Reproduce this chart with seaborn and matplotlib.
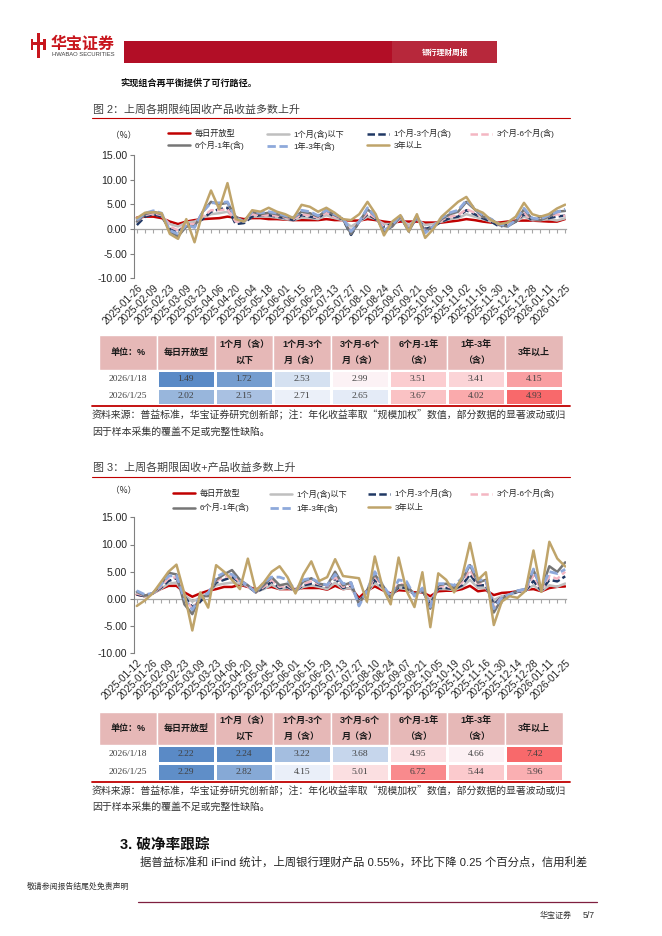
import numpy as np
import pandas as pd
import matplotlib.pyplot as plt
import matplotlib.colors as mcolors
from matplotlib.patches import Rectangle
from matplotlib.lines import Line2D
from matplotlib.ticker import FormatStrFormatter
import seaborn as sns

sns.set_style('white')
plt.rcParams['font.family'] = ['Liberation Sans', 'Noto Sans CJK SC']
plt.rcParams['axes.unicode_minus'] = False
CJK = ['Noto Sans CJK SC', 'DejaVu Sans']

W, H = 662, 936


def fx(x):
    return x / W


def fy(y):
    return 1 - y / H


# ---- data -------------------------------------------------------------
names = ['每日开放型', '1个月(含)以下', '1个月-3个月(含)', '3个月-6个月(含)',
         '6个月-1年(含)', '1年-3年(含)', '3年以上']
colors = ['#C00000', '#BFBFBF', '#203864', '#F4B6C2', '#767676', '#8EA9DB', '#BFA46A']
styles = ['-', '-', (0, (3, 1.3)), (0, (3, 1.3)), '-', (0, (3, 1.3)), '-']
widths = [1.8, 1.8, 1.8, 1.8, 1.8, 2.0, 1.8]

dates1 = pd.date_range('2025-01-26', '2026-01-25', freq='7D')
daily1 = [2.3, 2.5, 2.5, 2.2, 1.5, 1.0, 1.5, 1.8, 2.0, 2.1,
          2.2, 2.5, 2.3, 2.0, 2.2, 2.2, 2.0, 2.0, 1.9, 1.8,
          1.8, 1.8, 1.8, 2.0, 1.8, 1.8, 1.7, 1.7, 2.0, 1.8,
          1.5, 1.3, 1.5, 1.5, 1.5, 1.3, 1.3, 1.3, 1.5, 1.7,
          2.0, 1.8, 1.5, 1.3, 1.3, 1.5, 1.7, 1.7, 1.7, 1.6,
          1.5, 1.49, 2.02]
m1_1 = [2.0, 2.8, 3.0, 2.6, 1.0, 0.5, 1.3, 1.5, 2.3, 3.0,
        3.2, 3.5, 2.0, 1.5, 2.5, 2.5, 2.5, 2.3, 2.0, 1.8,
        2.3, 2.2, 2.0, 2.8, 2.2, 1.8, 0.5, 1.5, 2.5, 2.0,
        1.0, 1.0, 2.0, 0.8, 2.0, 0.8, 1.0, 1.5, 2.0, 2.2,
        3.0, 2.5, 2.0, 1.5, 0.8, 1.0, 1.5, 2.5, 1.8, 1.8,
        2.0, 1.72, 2.15]
m3_1 = [0.8, 2.5, 3.0, 2.5, 0.0, -0.5, 0.8, 1.0, 2.0, 3.5,
        4.0, 4.3, 1.0, 1.2, 2.5, 2.8, 2.8, 2.5, 2.2, 1.8,
        2.8, 2.5, 2.2, 3.5, 2.5, 2.0, -1.2, 1.5, 3.0, 2.0,
        0.5, 1.0, 2.2, 0.0, 2.2, 0.0, 0.5, 1.5, 2.2, 2.5,
        3.8, 3.0, 2.2, 1.5, 0.5, 0.8, 1.5, 3.0, 1.8, 2.5,
        2.2, 2.53, 2.71]
m6_1 = [1.5, 2.8, 3.2, 2.8, 0.5, -0.3, 1.0, 1.0, 2.5, 3.8,
        3.8, 4.0, 1.5, 1.5, 3.0, 2.8, 2.8, 2.7, 2.3, 2.0,
        3.0, 2.7, 2.3, 3.3, 2.5, 2.0, -0.5, 1.5, 3.3, 2.2,
        0.5, 0.5, 2.2, 0.0, 2.2, -0.3, 0.5, 1.8, 2.5, 2.8,
        4.0, 3.3, 2.5, 1.8, 0.8, 0.8, 1.5, 3.3, 1.8, 2.0,
        2.5, 2.99, 2.65]
y1_1 = [1.5, 3.0, 3.5, 3.0, -0.5, -1.5, 0.5, 0.5, 3.5, 5.5,
        5.0, 5.3, 2.5, 1.5, 3.5, 3.0, 3.3, 3.0, 2.5, 2.2,
        3.5, 3.2, 2.5, 3.8, 2.8, 2.0, -1.0, 1.5, 4.0, 2.5,
        -0.5, 0.5, 2.5, -0.5, 2.5, -0.5, 0.5, 2.0, 3.0, 3.5,
        5.5, 4.0, 2.5, 2.0, 0.8, 0.5, 1.5, 4.0, 2.0, 1.8,
        2.5, 3.51, 3.67]
y3_1 = [1.8, 3.2, 3.7, 3.2, -0.3, -1.0, 0.8, 0.3, 3.5, 5.3,
        5.3, 5.5, 2.3, 1.5, 3.5, 3.3, 3.5, 3.2, 2.7, 2.3,
        3.8, 3.5, 2.7, 3.8, 3.0, 2.2, -0.5, 1.5, 4.3, 2.5,
        -0.3, 0.8, 2.8, -0.3, 2.7, -0.8, 0.5, 2.3, 3.3, 3.8,
        5.8, 4.2, 2.8, 2.0, 1.0, 0.5, 1.8, 4.2, 2.2, 2.0,
        2.8, 3.41, 4.02]
y3p_1 = [2.2, 3.3, 3.4, 3.2, -1.0, -2.0, 2.0, -2.7, 3.5, 7.8,
         4.0, 9.3, 2.0, 1.5, 3.8, 3.5, 4.3, 3.5, 3.0, 2.2,
         4.9, 4.5, 3.5, 4.3, 3.3, 2.0, 1.8, 3.0, 5.5, 3.0,
         -1.3, 1.5, 2.8, -0.5, 3.0, -1.8, 0.0, 2.5, 4.0, 5.5,
         6.5, 4.0, 3.3, 1.8, 1.0, 1.3, 2.5, 5.3, 3.0, 2.5,
         3.0, 4.15, 4.93]

dates2 = pd.date_range('2025-01-12', '2026-01-25', freq='7D')
daily2 = [0.8, 0.5, 1.0, 1.8, 2.4, 2.4, 1.2, 0.4, 1.0, 1.5,
          1.8, 2.2, 2.2, 2.6, 2.2, 1.8, 2.0, 2.2, 1.8, 1.8,
          1.8, 2.0, 2.0, 2.0, 1.7, 2.4, 1.8, 2.0, 0.2, 1.5,
          2.3, 1.6, 1.0, 1.6, 1.5, 1.2, 1.2, 0.5, 1.4, 1.5,
          1.5, 1.8, 2.4, 1.4, 1.6, 0.7, 1.1, 1.2, 1.4, 1.7,
          1.8, 1.4, 2.0, 2.22, 2.29]
m1_2 = [0.9, 0.5, 1.0, 1.8, 2.8, 3.0, 0.8, -0.5, 0.2, 1.2,
        2.5, 2.8, 3.0, 2.8, 2.3, 1.3, 1.8, 2.6, 1.8, 2.0,
        1.5, 2.2, 2.5, 2.2, 1.8, 3.0, 1.8, 2.0, -0.3, 1.0,
        3.0, 1.8, 0.5, 2.0, 1.8, 0.8, 1.4, -0.3, 1.8, 1.8,
        1.6, 2.2, 3.5, 2.0, 2.0, -0.2, 0.5, 0.8, 1.3, 1.5,
        2.5, 1.4, 2.5, 2.24, 2.82]
m3_2 = [0.8, 0.5, 1.0, 2.0, 3.3, 3.8, 0.5, -1.5, -0.5, 1.0,
        3.0, 3.5, 4.0, 3.0, 2.3, 1.2, 2.0, 3.2, 2.0, 2.2,
        1.5, 2.5, 2.8, 2.5, 2.2, 3.8, 2.0, 2.5, -0.5, 1.2,
        3.5, 2.2, 0.5, 2.2, 2.0, 0.8, 1.5, -1.0, 2.0, 2.0,
        1.8, 2.5, 4.5, 2.5, 2.5, -1.0, 0.3, 0.7, 1.3, 1.5,
        3.3, 1.5, 3.5, 3.22, 4.15]
m6_2 = [1.0, 0.6, 1.0, 2.2, 3.8, 4.0, 0.2, -1.8, 0.0, 1.0,
        3.3, 4.0, 4.3, 3.2, 2.3, 1.2, 2.2, 3.5, 2.2, 2.5,
        1.5, 2.8, 3.2, 2.7, 2.3, 4.0, 2.2, 2.7, -0.8, 1.3,
        4.0, 2.3, 0.4, 2.8, 2.5, 0.8, 1.7, -1.2, 2.3, 2.3,
        2.0, 3.0, 5.3, 2.8, 3.0, -1.5, 0.3, 0.8, 1.4, 1.6,
        4.3, 1.6, 4.2, 3.68, 5.01]
y1_2 = [1.3, 0.6, 1.0, 2.5, 4.8, 4.5, -1.0, -2.8, 0.5, 0.5,
        3.5, 4.5, 5.3, 3.5, 2.5, 1.2, 2.5, 4.0, 2.5, 2.8,
        1.5, 3.2, 3.8, 2.8, 2.5, 5.0, 2.5, 3.0, -1.0, 1.5,
        4.5, 2.5, 0.2, 2.5, 2.5, 0.8, 1.8, -1.8, 2.5, 2.8,
        2.0, 3.5, 6.2, 3.0, 3.5, -2.5, 0.0, 0.8, 1.5, 1.8,
        5.3, 1.8, 6.0, 4.95, 6.72]
y3_2 = [1.5, 0.8, 1.0, 2.5, 4.2, 4.3, 0.0, -2.0, 0.5, 1.0,
        4.0, 4.8, 4.5, 3.3, 2.5, 1.2, 3.0, 4.0, 4.0, 3.5,
        1.5, 3.5, 3.8, 3.0, 2.5, 4.5, 2.8, 3.0, -1.3, 1.5,
        5.0, 2.5, 0.5, 3.5, 3.2, 0.5, 2.0, -1.5, 2.8, 2.8,
        2.5, 3.8, 6.5, 3.5, 3.5, -1.8, 0.2, 0.8, 1.5, 1.8,
        5.5, 1.8, 5.0, 4.66, 5.44]
y3p_2 = [-1.3, -0.3, 1.0, 3.0, 5.0, 6.3, 1.0, -5.8, 1.2, -1.6,
         6.2, 5.0, 3.5, 1.8, 7.4, 1.5, 3.0, 5.0, 6.0, 4.0,
         1.0, 4.5, 6.9, 3.3, 4.0, 7.3, 4.2, 4.0, 3.8, -0.5,
         7.8, 2.0, -1.0, 7.6, 1.5, -1.5, 4.9, -5.2, 4.7, 3.5,
         1.2, 4.0, 10.3, 3.5, 4.9, -4.8, -0.5, 0.5, 0.2, 1.5,
         8.9, 1.3, 10.5, 7.42, 5.96]

series1 = [daily1, m1_1, m3_1, m6_1, y1_1, y3_1, y3p_1]
series2 = [daily2, m1_2, m3_2, m6_2, y1_2, y3_2, y3p_2]

table_header = ['单位：%', '每日开放型', '1个月（含）\n以下', '1个月-3个\n月（含）',
                '3个月-6个\n月（含）', '6个月-1年\n（含）', '1年-3年\n（含）', '3年以上']
table_rows = ['2026/1/18', '2026/1/25']
table1 = [[1.49, 1.72, 2.53, 2.99, 3.51, 3.41, 4.15],
          [2.02, 2.15, 2.71, 2.65, 3.67, 4.02, 4.93]]
table2 = [[2.22, 2.24, 3.22, 3.68, 4.95, 4.66, 7.42],
          [2.29, 2.82, 4.15, 5.01, 6.72, 5.44, 5.96]]

note1 = '资料来源：普益标准，华宝证券研究创新部；注：年化收益率取“规模加权”数值，部分数据的显著波动或归'
note2 = '因于样本采集的覆盖不足或完整性缺陷。'

# ---- figure -------------------------------------------------------------
fig = plt.figure(figsize=(W / 100, H / 100), dpi=100)
fig.patch.set_facecolor('white')


def hline(x0, x1, y, color, lw):
    fig.add_artist(Line2D([fx(x0), fx(x1)], [fy(y), fy(y)], transform=fig.transFigure,
                          color=color, lw=lw))


def draw_chart(top, bottom, dates, series):
    ax = fig.add_axes([fx(134), fy(bottom), fx(566) - fx(134), (bottom - top) / H])
    x = np.arange(len(dates))
    for vals, c, ls, lw in zip(series, colors, styles, widths):
        sns.lineplot(x=x, y=vals, ax=ax, color=c, lw=lw, linestyle=ls)
    ax.set_ylim(-10, 15)
    ax.set_yticks([-10, -5, 0, 5, 10, 15])
    ax.yaxis.set_major_formatter(FormatStrFormatter('%.2f'))
    ax.set_xlim(-0.35, len(dates) - 0.9)
    ax.set_xticks(x[::2])
    ax.set_xticklabels([d.strftime('%Y-%m-%d') for d in dates[::2]], rotation=45,
                       ha='right', rotation_mode='anchor')
    ax.tick_params(axis='x', length=0, pad=3, labelsize=7.2, labelcolor='#262626')
    ax.tick_params(axis='y', left=True, length=3, width=0.8, direction='out',
                   color='#808080', labelsize=7.6, labelcolor='#262626', pad=2)
    for s in ['top', 'right', 'bottom']:
        ax.spines[s].set_visible(False)
    ax.spines['left'].set_color('#808080')
    ax.spines['left'].set_linewidth(0.8)
    ax.set_facecolor('none')
    # category axis crossing at zero
    sec = ax.secondary_xaxis(0.4)
    sec.set_xticks(x)
    sec.set_xticklabels([])
    sec.tick_params(length=3, width=0.8, direction='out', color='#A6A6A6')
    sec.spines['bottom'].set_color('#A6A6A6')
    sec.spines['bottom'].set_linewidth(0.9)
    return ax


def draw_legend(xs, y_top, gap):
    handles = [Line2D([], [], color=c, ls=ls, lw=lw) for c, ls, lw in zip(colors, styles, widths)]
    cols = [[0, 4], [1, 5], [2, 6], [3]]
    for xpos, idx in zip(xs, cols):
        fig.legend([handles[i] for i in idx], [names[i] for i in idx], loc='upper left',
                   bbox_to_anchor=(fx(xpos), fy(y_top)), frameon=False, fontsize=5.9,
                   handlelength=2.7, handletextpad=0.5, borderpad=0, borderaxespad=0,
                   labelspacing=gap, labelcolor='#262626')


cmap = mcolors.LinearSegmentedColormap.from_list('xl', ['#5A8AC6', '#FCFCFF', '#F8696B'])


def draw_table(top, hdr_bottom, bottom, values):
    axh = fig.add_axes([fx(99.3), fy(hdr_bottom), (563.3 - 99.3) / W, (hdr_bottom - top) / H])
    axh.set_xlim(0, 8)
    axh.set_ylim(0, 1)
    axh.axis('off')
    for j, lab in enumerate(table_header):
        axh.add_patch(Rectangle((j, 0), 1, 1, facecolor='#E6B8B7', edgecolor='white', lw=1))
        axh.text(j + 0.5, 0.5, lab, ha='center', va='center', fontsize=6.5,
                 fontweight='bold', linespacing=1.9, color='#1A1A1A')
    axd = fig.add_axes([fx(156.7), fy(bottom), (563.3 - 156.7) / W, (bottom - hdr_bottom) / H])
    df = pd.DataFrame(values, index=table_rows, columns=table_header[1:])
    flat = np.array(values).ravel()
    norm = mcolors.TwoSlopeNorm(vmin=flat.min(), vcenter=np.median(flat), vmax=flat.max())
    sns.heatmap(df, ax=axd, cmap=cmap, norm=norm, annot=True, fmt='.2f', cbar=False,
                linewidths=1, linecolor='white', xticklabels=False, yticklabels=True,
                annot_kws={'color': '#404040', 'fontsize': 6.8, 'family': 'Liberation Serif'})
    axd.set_ylabel('')
    axd.tick_params(axis='y', length=0, pad=20.5, labelsize=6.8, labelcolor='#404040')
    for lbl in axd.get_yticklabels():
        lbl.set_rotation(0)
        lbl.set_ha('center')
        lbl.set_family('Liberation Serif')
    hline(92, 570, bottom + 1, '#C00000', 1.3)


# header band
fig.add_artist(Rectangle((fx(124), fy(62.7)), fx(392) - fx(124), 21.7 / H,
                         transform=fig.transFigure, facecolor='#B20E26', edgecolor='none'))
fig.add_artist(Rectangle((fx(392), fy(62.7)), fx(497) - fx(392), 21.7 / H,
                         transform=fig.transFigure, facecolor='#B7283B', edgecolor='none'))
fig.text(fx(445), fy(52), '银行理财周报', color='white', fontsize=5.6, fontweight='bold',
         ha='center', va='center', family=CJK)
# logo
for (x0, y0, w, h) in [(36.5, 33, 3.2, 25), (30.5, 39, 2.6, 11), (43.5, 39, 2.6, 11), (30.5, 42, 15.6, 2.8)]:
    fig.add_artist(Rectangle((fx(x0), fy(y0 + h)), w / W, h / H, transform=fig.transFigure,
                             facecolor='#C8161D', edgecolor='none'))
fig.text(fx(51), fy(43.5), '华宝证券', color='#C8161D', fontsize=11.5, fontweight='bold',
         va='center', family=CJK)
fig.text(fx(52), fy(55), 'HWABAO SECURITIES', color='#404040', fontsize=4.2, va='center')

fig.text(fx(120), fy(83), '实现组合再平衡提供了可行路径。', fontsize=6.6, fontweight='bold',
         va='center', color='#111111', family=CJK)

# figure 2
fig.text(fx(93), fy(110), '图 2：上周各期限纯固收产品收益多数上升', fontsize=7.9,
         color='#404040', va='center')
hline(92, 570, 118.3, '#C00000', 0.8)
fig.text(fx(123.5), fy(135.5), '（%）', fontsize=6.2, color='#262626', ha='center',
         va='center', family=CJK)
draw_legend([168, 267, 367, 470], 129.5, 0.42)
draw_chart(155, 278.3, dates1, series1)
draw_table(335, 370, 405, table1)
fig.text(fx(92), fy(415), note1, fontsize=7.15, color='#333333', va='center', family=CJK)
fig.text(fx(92), fy(432.3), note2, fontsize=7.15, color='#333333', va='center', family=CJK)

# figure 3
fig.text(fx(93), fy(467.7), '图 3：上周各期限固收+产品收益多数上升', fontsize=7.9,
         color='#404040', va='center')
hline(92, 570, 476.7, '#C00000', 0.8)
fig.text(fx(123.5), fy(491), '（%）', fontsize=6.2, color='#262626', ha='center',
         va='center', family=CJK)
draw_legend([173, 270, 368, 470], 489.5, 0.7)
draw_chart(517.3, 653.3, dates2, series2)
draw_table(711.7, 745, 781, table2)
fig.text(fx(92), fy(790.7), note1, fontsize=7.15, color='#333333', va='center', family=CJK)
fig.text(fx(92), fy(807.3), note2, fontsize=7.15, color='#333333', va='center', family=CJK)

# section 3
fig.text(fx(120), fy(845), '3. 破净率跟踪', fontsize=10.5, fontweight='bold', va='center',
         color='#111111')
fig.text(fx(140), fy(862), '据普益标准和 iFind 统计，上周银行理财产品 0.55%，环比下降 0.25 个百分点，信用利差',
         fontsize=8.2, color='#262626', va='center')

# footer
fig.text(fx(27), fy(887), '敬请参阅报告结尾处免责声明', fontsize=5.7, color='#333333', va='center')
hline(138, 597, 902, '#7F1F3F', 0.9)
fig.text(fx(540), fy(915.7), '华宝证券', fontsize=5.8, color='#333333', va='center')
fig.text(fx(583), fy(915.7), '5/7', fontsize=6.3, color='#333333', va='center')

fig.savefig('out.png', dpi=100)
